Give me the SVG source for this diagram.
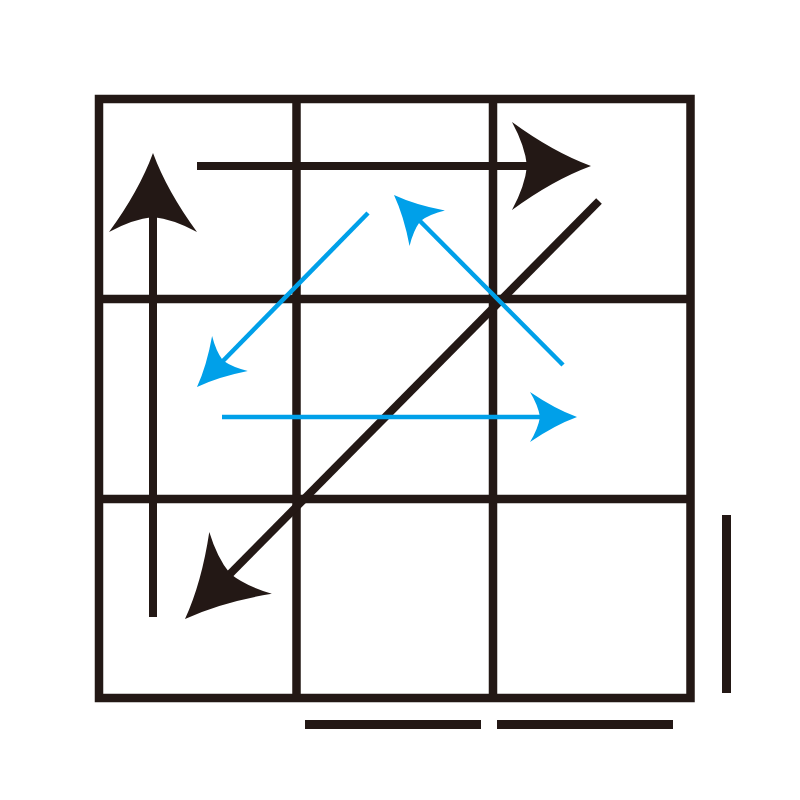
<svg xmlns="http://www.w3.org/2000/svg" xmlns:xlink="http://www.w3.org/1999/xlink" width="800" height="800" viewBox="0 0 800 800">
<style>
.grid{fill:none;stroke:#231815;stroke-width:8.5}
.blk{fill:none;stroke:#231815;stroke-width:8}
.blu{fill:none;stroke:#00a0e9;stroke-width:4.5}
.hb{fill:#231815}
.hu{fill:#00a0e9}
.bar{fill:#231815}
</style>
<defs>
<path id="headB" d="M0,0 Q-38,-14 -79,-44 Q-66,-20 -64,0 Q-66,20 -79,44 Q-38,14 0,0Z"/>
<path id="headU" d="M0,0 Q-22,-8 -47,-25 Q-39,-12 -37,0 Q-39,12 -47,25 Q-22,8 0,0Z"/>
</defs>
<rect width="800" height="800" fill="#fff"/>
<g id="grid">
<rect class="grid" x="99" y="99" width="591.5" height="599"/>
<line class="grid" x1="296.5" y1="99" x2="296.5" y2="698"/>
<line class="grid" x1="493" y1="99" x2="493" y2="698"/>
<line class="grid" x1="99" y1="299" x2="690.5" y2="299"/>
<line class="grid" x1="99" y1="499" x2="690.5" y2="499"/>
</g>
<g id="bars">
<rect class="bar" x="305" y="720" width="176" height="9"/>
<rect class="bar" x="497" y="720" width="176" height="9"/>
<rect class="bar" x="722" y="515" width="9" height="178"/>
</g>
<g id="connectors">
<line class="blk" x1="197" y1="166" x2="540" y2="166"/>
<use xlink:href="#headB" class="hb" transform="translate(591,166)"/>
<line class="blk" x1="153" y1="617" x2="153" y2="205"/>
<use xlink:href="#headB" class="hb" transform="translate(153,153) rotate(-90)"/>
<line class="blk" x1="599" y1="201" x2="222" y2="582"/>
<use xlink:href="#headB" class="hb" transform="translate(185,619) rotate(134.7)"/>
<line class="blu" x1="368" y1="213" x2="219" y2="365"/>
<use xlink:href="#headU" class="hu" transform="translate(197,387) rotate(134.5)"/>
<line class="blu" x1="563" y1="365" x2="416" y2="217"/>
<use xlink:href="#headU" class="hu" transform="translate(394,195) rotate(-135)"/>
<line class="blu" x1="222" y1="417" x2="550" y2="417"/>
<use xlink:href="#headU" class="hu" transform="translate(577,417)"/>
</g>
</svg>
